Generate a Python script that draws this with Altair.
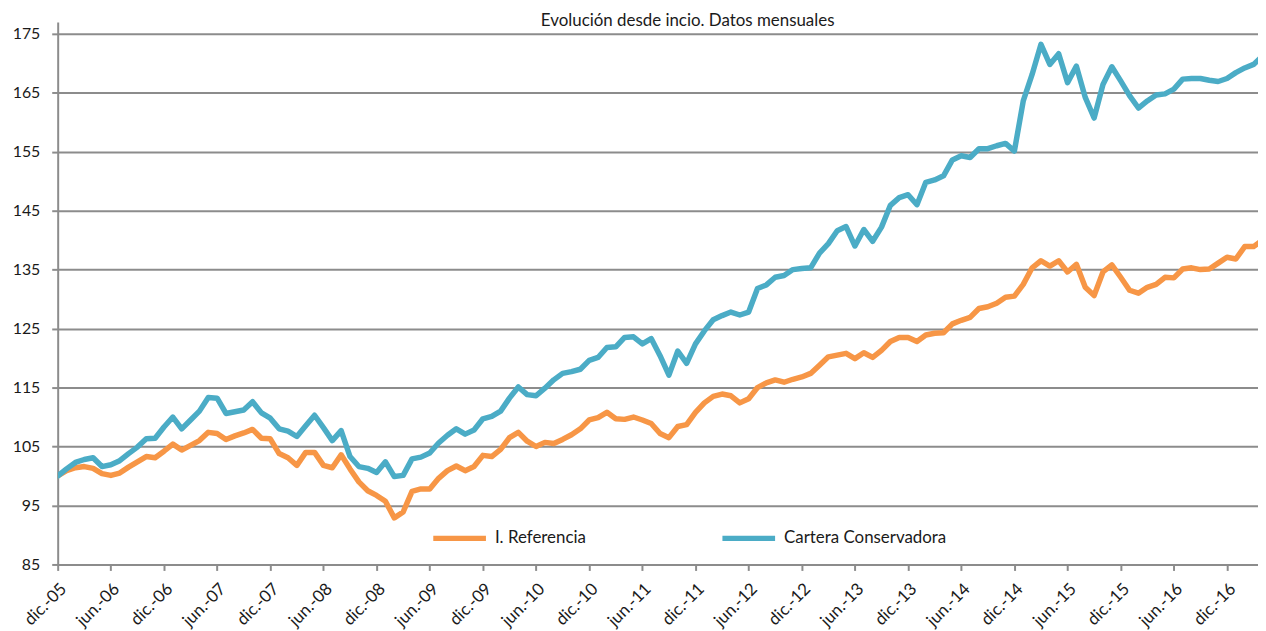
import altair as alt
import pandas as pd

# Etiquetas del eje X (cada 6 meses, desde dic.-05)
tick_labels = ["dic.-05", "jun.-06", "dic.-06", "jun.-07", "dic.-07", "jun.-08",
               "dic.-08", "jun.-09", "dic.-09", "jun.-10", "dic.-10", "jun.-11",
               "dic.-11", "jun.-12", "dic.-12", "jun.-13", "dic.-13", "jun.-14",
               "dic.-14", "jun.-15", "dic.-15", "jun.-16", "dic.-16"]

y_ticks = [85, 95, 105, 115, 125, 135, 145, 155, 165, 175]

series_names = ["I. Referencia", "Cartera Conservadora"]
series_colors = ["#F79646", "#4BACC6"]

# Valores mensuales (dic.-05 = 100)
referencia = [
    100.0, 100.9, 101.4, 101.6, 101.3, 100.4, 100.1, 100.5, 101.5, 102.4,
    103.3, 103.1, 104.2, 105.4, 104.4, 105.2, 106.0, 107.4, 107.2, 106.2,
    106.8, 107.3, 107.9, 106.4, 106.3, 103.8, 103.1, 101.8, 104.0, 104.0,
    101.8, 101.4, 103.6, 101.2, 99.0, 97.5, 96.7, 95.7, 92.9, 93.9,
    97.4, 97.8, 97.8, 99.6, 100.9, 101.7, 100.9, 101.6, 103.5, 103.3,
    104.5, 106.5, 107.4, 105.9, 105.0, 105.7, 105.5, 106.2, 107.0, 108.0,
    109.5, 109.9, 110.8, 109.7, 109.6, 110.0, 109.5, 108.9, 107.2, 106.5,
    108.4, 108.7, 110.8, 112.4, 113.5, 113.9, 113.6, 112.4, 113.1, 115.0,
    115.8, 116.3, 115.9, 116.4, 116.8, 117.4, 118.8, 120.2, 120.5, 120.8,
    119.9, 120.9, 120.1, 121.3, 122.8, 123.5, 123.5, 122.8, 123.9, 124.2,
    124.3, 125.8, 126.4, 126.9, 128.4, 128.7, 129.3, 130.3, 130.5, 132.5,
    135.3, 136.5, 135.6, 136.5, 134.6, 135.9, 132.0, 130.6, 134.6, 135.8,
    133.7, 131.5, 131.0, 132.0, 132.5, 133.7, 133.6, 135.1, 135.3, 135.0,
    135.1, 136.1, 137.1, 136.8, 138.9, 138.9, 140.0,
]

conservadora = [
    100.0, 101.2, 102.3, 102.8, 103.1, 101.6, 101.9, 102.6, 103.8, 104.9,
    106.3, 106.4, 108.3, 110.0, 108.0, 109.5, 111.0, 113.3, 113.2, 110.6,
    110.9, 111.2, 112.6, 110.7, 109.8, 108.0, 107.6, 106.7, 108.5, 110.3,
    108.2, 106.0, 107.7, 103.3, 101.6, 101.3, 100.6, 102.4, 99.9, 100.1,
    102.9, 103.2, 103.9, 105.6, 106.9, 108.0, 107.1, 107.8, 109.7, 110.1,
    111.0, 113.2, 115.1, 113.8, 113.6, 114.9, 116.3, 117.4, 117.7, 118.1,
    119.6, 120.1, 121.8, 121.9, 123.5, 123.6, 122.4, 123.3, 120.4, 117.1,
    121.2, 119.1, 122.4, 124.6, 126.5, 127.2, 127.8, 127.3, 127.8, 131.8,
    132.4, 133.7, 134.0, 135.0, 135.2, 135.3, 137.8, 139.4, 141.6, 142.3,
    139.0, 141.8, 139.8, 142.2, 145.9, 147.2, 147.7, 146.0, 149.8, 150.2,
    150.9, 153.6, 154.3, 154.0, 155.5, 155.5, 156.0, 156.4, 155.1, 163.6,
    168.1, 173.2, 169.8, 171.6, 166.7, 169.5, 164.2, 160.7, 166.4, 169.4,
    167.0, 164.5, 162.4, 163.6, 164.6, 164.8, 165.6, 167.3, 167.4, 167.4,
    167.1, 166.9, 167.4, 168.4, 169.2, 169.8, 171.2,
]

rows = []
for name, values in zip(series_names, [referencia, conservadora]):
    for i, v in enumerate(values):
        rows.append({"mes": i, "valor": v, "serie": name})
df = pd.DataFrame(rows)

label_expr = "[" + ",".join("'%s'" % t for t in tick_labels) + "][round(datum.value / 6)]"

FONT = "Lato"
GRAY = "#8c8c8c"
TXT = "#1a1a1a"

chart = alt.Chart(df).mark_line(
    strokeWidth=5.5, strokeCap="round", strokeJoin="round", clip=True
).encode(
    x=alt.X(
        "mes:Q",
        scale=alt.Scale(domain=[0, 135.5], nice=False, zero=False),
        axis=alt.Axis(
            values=list(range(0, 6 * len(tick_labels), 6)),
            labelExpr=label_expr,
            labelAngle=-45,
            labelAlign="right",
            labelBaseline="top",
            labelPadding=10,
            labelFont=FONT,
            labelFontSize=17,
            labelColor=TXT,
            labelOverlap=False,
            labelFlush=False,
            tickColor=GRAY,
            tickSize=6,
            tickWidth=2,
            domainColor=GRAY,
            domainWidth=2,
            grid=False,
            title=None,
        ),
    ),
    y=alt.Y(
        "valor:Q",
        scale=alt.Scale(domain=[85, 177], nice=False, zero=False),
        axis=alt.Axis(
            values=y_ticks,
            labelFont=FONT,
            labelFontSize=16,
            labelColor=TXT,
            labelPadding=12,
            tickColor=GRAY,
            tickSize=6,
            tickWidth=2,
            domainColor=GRAY,
            domainWidth=2,
            grid=True,
            gridColor=GRAY,
            gridWidth=2,
            title=None,
        ),
    ),
    color=alt.Color(
        "serie:N",
        scale=alt.Scale(domain=series_names, range=series_colors),
        legend=alt.Legend(
            orient="none",
            legendX=375,
            legendY=490,
            direction="horizontal",
            title=None,
            symbolType="stroke",
            symbolSize=2809,
            symbolStrokeWidth=5.5,
            labelFont=FONT,
            labelFontSize=17,
            labelColor=TXT,
            labelOffset=6,
            labelLimit=400,
            columnPadding=126,
        ),
    ),
).properties(
    width=1208,
    height=546,
    title=alt.TitleParams(
        "Evolución desde incio. Datos mensuales",
        anchor="middle",
        frame="group",
        font=FONT,
        fontSize=17,
        fontWeight="normal",
        color=TXT,
        baseline="alphabetic",
        offset=0,
        dx=30,
        dy=21,
    ),
    autosize=alt.AutoSizeParams(type="none"),
    padding={"left": 50, "top": 12, "right": 0, "bottom": 70},
).configure_view(stroke=None)

chart.save("out.html", embed_options={"renderer": "svg", "actions": False})
